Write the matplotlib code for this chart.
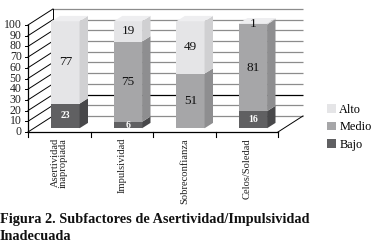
import matplotlib
matplotlib.use("Agg")
import matplotlib.pyplot as plt
from matplotlib.patches import Polygon, Patch

categories = ["Asertividad\ninapropiada", "Impulsividad", "Sobreconfianza", "Celos/Soledad"]
bajo = [23, 6, 0, 16]
medio = [0, 75, 51, 81]
alto = [77, 19, 49, 1]
series_names = ["Bajo", "Medio", "Alto"]
yticks = list(range(0, 101, 10))
caption = ["Figura 2. Subfactores de Asertividad/Impulsividad", "Inadecuada"]

# colours: (front, side, top)
colors = {
    "Bajo": ("#606062", "#48484a", "#707072"),
    "Medio": ("#a6a6a8", "#8e8e90", "#b8b8ba"),
    "Alto": ("#e5e5e7", "#d0d0d2", "#eeeef0"),
}

serif = ["Liberation Serif", "DejaVu Serif"]

fig = plt.figure(figsize=(3.73, 2.49), dpi=100)
ax = fig.add_axes([0, 0, 1, 1])
PXX = 62.5   # px per category
PXY = 1.07   # px per unit
x0, y0 = 28, 132
ax.set_xlim(-0.5 - x0 / PXX, -0.5 + (373 - x0) / PXX)
ax.set_ylim((y0 - 249) / PXY, y0 / PXY)
ax.axis("off")

n = len(categories)
DX, DY = 0.4, 15.0      # wall depth
BX, BY = 0.1, 3.5       # bar front shift
SX, SY = 0.135, 5.0     # bar depth
BW = 0.45
xl, xr = -0.5, n - 0.5

# back wall gridlines
for v in yticks:
    col = "#000000" if v == 20 else "#8c8c8c"
    ax.plot([xl + DX, xr + DX], [v + DY, v + DY], color=col, lw=0.9,
            solid_capstyle="butt", zorder=1)
    # left wall diagonals
    ax.plot([xl, xl + DX], [v, v + DY], color="#000000", lw=0.7, zorder=1)
    # y ticks
    ax.plot([xl - 0.05, xl], [v, v], color="#000000", lw=0.7, zorder=1)
    ax.text(xl - 0.1, v, str(v), ha="right", va="center", fontsize=8.5,
            family=serif, color="#222222")
ax.plot([xl + DX, xl + DX], [DY, 100 + DY], color="#000000", lw=0.7, zorder=1)
ax.plot([xl, xl], [0, 100], color="#000000", lw=0.9, zorder=1)
ax.plot([xl, xr], [0, 0], color="#000000", lw=0.9, zorder=1)
ax.plot([xr, xr + DX], [0, DY], color="#000000", lw=0.7, zorder=1)
for k in range(n + 1):
    ax.plot([xl + k, xl + k], [0, -4.5], color="#000000", lw=0.8, zorder=1)

# bars
for i in range(n):
    bottom = 0
    L = i + BX - BW / 2
    R = i + BX + BW / 2
    vals = {"Bajo": bajo[i], "Medio": medio[i], "Alto": alto[i]}
    for s in series_names:
        v = vals[s]
        if v <= 0:
            continue
        f, sd, tp = colors[s]
        b = bottom + BY
        t = bottom + v + BY
        ax.add_patch(Polygon([(L, b), (R, b), (R, t), (L, t)], closed=True,
                             facecolor=f, edgecolor="none", zorder=3))
        ax.add_patch(Polygon([(R, b), (R + SX, b + SY), (R + SX, t + SY), (R, t)],
                             closed=True, facecolor=sd, edgecolor="none", zorder=3))
        bottom += v
    # top face
    topcol = colors["Alto"][2] if alto[i] > 0 else colors["Medio"][2]
    t = bottom + BY
    ax.add_patch(Polygon([(L, t), (R, t), (R + SX, t + SY), (L + SX, t + SY)],
                         closed=True, facecolor=topcol, edgecolor="none", zorder=3))
    # labels
    bottom = 0
    for s in series_names:
        v = vals[s]
        if v <= 0:
            continue
        cy = bottom + v / 2 + BY
        if s == "Bajo":
            ax.text(i + BX, cy, str(v), ha="center", va="center", fontsize=7,
                    fontweight="bold", family=serif, color="white", zorder=5)
        else:
            ax.text(i + BX, cy, str(v), ha="center", va="center", fontsize=9.5,
                    family=serif, color="#111111", zorder=5)
        bottom += v

# category labels
for i, c in enumerate(categories):
    ax.text(i, -5.5, c, rotation=90, ha="center", va="top", fontsize=7.6,
            family=serif, color="#222222", multialignment="right", linespacing=0.85)

handles = [Patch(facecolor=colors[s][0], edgecolor="none", label=s) for s in ["Alto", "Medio", "Bajo"]]
leg = ax.legend(handles=handles, loc="upper left", bbox_to_anchor=(327 / 373, 1 - 104 / 249),
                frameon=False, prop={"family": serif, "size": 8.8},
                handlelength=0.7, handleheight=0.7, handletextpad=0.3, labelspacing=0.45,
                borderaxespad=0, borderpad=0)

fig.text(0.0, 1 - 223 / 249, caption[0], ha="left", va="baseline", fontsize=10.3,
         fontweight="bold", family=serif, color="#111111")
fig.text(0.0, 1 - 240 / 249, caption[1], ha="left", va="baseline", fontsize=10.3,
         fontweight="bold", family=serif, color="#111111")

fig.savefig("out.png", dpi=100)
